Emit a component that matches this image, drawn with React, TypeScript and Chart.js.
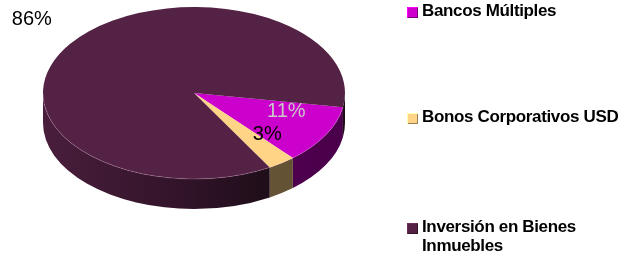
import React, { useEffect, useRef } from "react";
import { Chart, registerables } from "chart.js";

Chart.register(...registerables);

const categories = ["Bancos Múltiples", "Bonos Corporativos USD", "Inversión en Bienes Inmuebles"];
const shares = [11, 3, 86];
const sliceColors = ["#CC00CC", "#FFD487", "#532244"];
const labelColors = ["#C8C8C8", "#000000", "#000000"];
// label placement: angle offset (deg) from slice middle, radial factor
const labelAngleOffset = [-9.5, -10, 3.7];
const labelRadial = [0.65, 0.68, 1.37];
const legendTops = [1, 107, 217];

function shade(hex: string, f: number) {
  const n = parseInt(hex.slice(1), 16);
  const c = (v: number) => Math.min(255, Math.round(v * f));
  return `rgb(${c((n >> 16) & 255)},${c((n >> 8) & 255)},${c(n & 255)})`;
}

const pie3d = {
  id: "pie3d",
  beforeDatasetsDraw(chart: any, _args: any, opts: any) {
    const ctx = chart.ctx as CanvasRenderingContext2D;
    const meta = chart.getDatasetMeta(0);
    const k = opts.tilt;
    const depth = opts.depth;
    meta.data.forEach((arc: any, i: number) => {
      const p = arc.getProps(["x", "y", "startAngle", "endAngle", "outerRadius"], true);
      const rx = p.outerRadius;
      const ry = rx * k;
      for (let n = -1; n <= 2; n++) {
        const s = Math.max(p.startAngle, 2 * Math.PI * n);
        const e = Math.min(p.endAngle, 2 * Math.PI * n + Math.PI);
        if (e <= s) continue;
        const grad = ctx.createLinearGradient(p.x - rx, 0, p.x + rx, 0);
        const base = sliceColors[i];
        grad.addColorStop(0, shade(base, 0.88));
        grad.addColorStop(0.45, shade(base, 0.6));
        grad.addColorStop(0.72, shade(base, 0.4));
        grad.addColorStop(1, shade(base, 0.36));
        ctx.save();
        ctx.beginPath();
        ctx.ellipse(p.x, p.y, rx, ry, 0, s, e, false);
        ctx.lineTo(p.x + rx * Math.cos(e), p.y + ry * Math.sin(e) + depth);
        ctx.ellipse(p.x, p.y + depth, rx, ry, 0, e, s, true);
        ctx.closePath();
        ctx.fillStyle = grad;
        ctx.fill();
        ctx.restore();
      }
    });
    const first = meta.data[0];
    const cy = first ? first.y : 0;
    ctx.save();
    ctx.translate(0, cy);
    ctx.scale(1, k);
    ctx.translate(0, -cy);
  },
  afterDatasetsDraw(chart: any, _args: any, opts: any) {
    const ctx = chart.ctx as CanvasRenderingContext2D;
    ctx.restore();
    const meta = chart.getDatasetMeta(0);
    const k = opts.tilt;
    const total = shares.reduce((a, b) => a + b, 0);
    meta.data.forEach((arc: any) => {
      const p = arc.getProps(["x", "y", "startAngle", "endAngle", "outerRadius"], true);
      ctx.save();
      ctx.beginPath();
      const s = Math.max(p.startAngle, 0);
      const e = Math.min(p.endAngle, Math.PI);
      if (e > s) {
        ctx.ellipse(p.x, p.y, p.outerRadius, p.outerRadius * k, 0, s, e, false);
        ctx.strokeStyle = "rgba(255,190,230,0.22)";
        ctx.lineWidth = 1;
        ctx.stroke();
      }
      ctx.restore();
    });
    ctx.save();
    ctx.font = "20px 'Liberation Sans', Arial, sans-serif";
    ctx.textAlign = "center";
    ctx.textBaseline = "middle";
    meta.data.forEach((arc: any, i: number) => {
      const p = arc.getProps(["x", "y", "startAngle", "endAngle", "outerRadius"], true);
      const mid = (p.startAngle + p.endAngle) / 2 + (labelAngleOffset[i] * Math.PI) / 180;
      const f = labelRadial[i];
      const lx = p.x + p.outerRadius * f * Math.cos(mid);
      const ly = p.y + p.outerRadius * k * f * Math.sin(mid);
      ctx.fillStyle = labelColors[i];
      ctx.fillText(Math.round((shares[i] / total) * 100) + "%", lx, ly);
    });
    ctx.restore();
  },
};

export default function App() {
  const ref = useRef<HTMLCanvasElement>(null);
  useEffect(() => {
    if (!ref.current) return;
    const chart = new Chart(ref.current, {
      type: "pie",
      data: {
        labels: categories,
        datasets: [
          {
            data: shares,
            backgroundColor: sliceColors,
            borderWidth: 0,
            radius: 151,
          } as any,
        ],
      },
      options: {
        responsive: false,
        animation: false,
        rotation: 99.5,
        events: [],
        layout: { padding: { left: 0, right: 239, top: 0, bottom: 71 } },
        plugins: {
          legend: { display: false },
          tooltip: { enabled: false },
          pie3d: { tilt: 86 / 151, depth: 30 },
        } as any,
      },
      plugins: [pie3d],
    });
    return () => chart.destroy();
  }, []);

  return (
    <div style={{ position: "fixed", left: 0, top: 0, width: 627, height: 257, background: "#fff", overflow: "hidden" }}>
      <canvas ref={ref} width={627} height={257} style={{ position: "absolute", left: 0, top: 0 }} />
      {categories.map((c, i) => (
        <div key={c} style={{ position: "absolute", left: 407, top: legendTops[i], width: 218 }}>
          <div
            style={{
              position: "absolute",
              left: 0,
              top: 6,
              width: 11,
              height: 11,
              boxSizing: "border-box",
              background: sliceColors[i],
              boxShadow: `inset 1px 1px 0 ${shade(sliceColors[i], 1.3)}, inset -1px -1px 0 ${shade(sliceColors[i], 0.6)}`,
            }}
          />
          <div
            style={{
              marginLeft: 15,
              font: "bold 17px 'Liberation Sans', Arial, sans-serif",
              letterSpacing: "-0.35px",
              lineHeight: "19px",
              color: "#000",
              width: 200,
            }}
          >
            {c}
          </div>
        </div>
      ))}
    </div>
  );
}
